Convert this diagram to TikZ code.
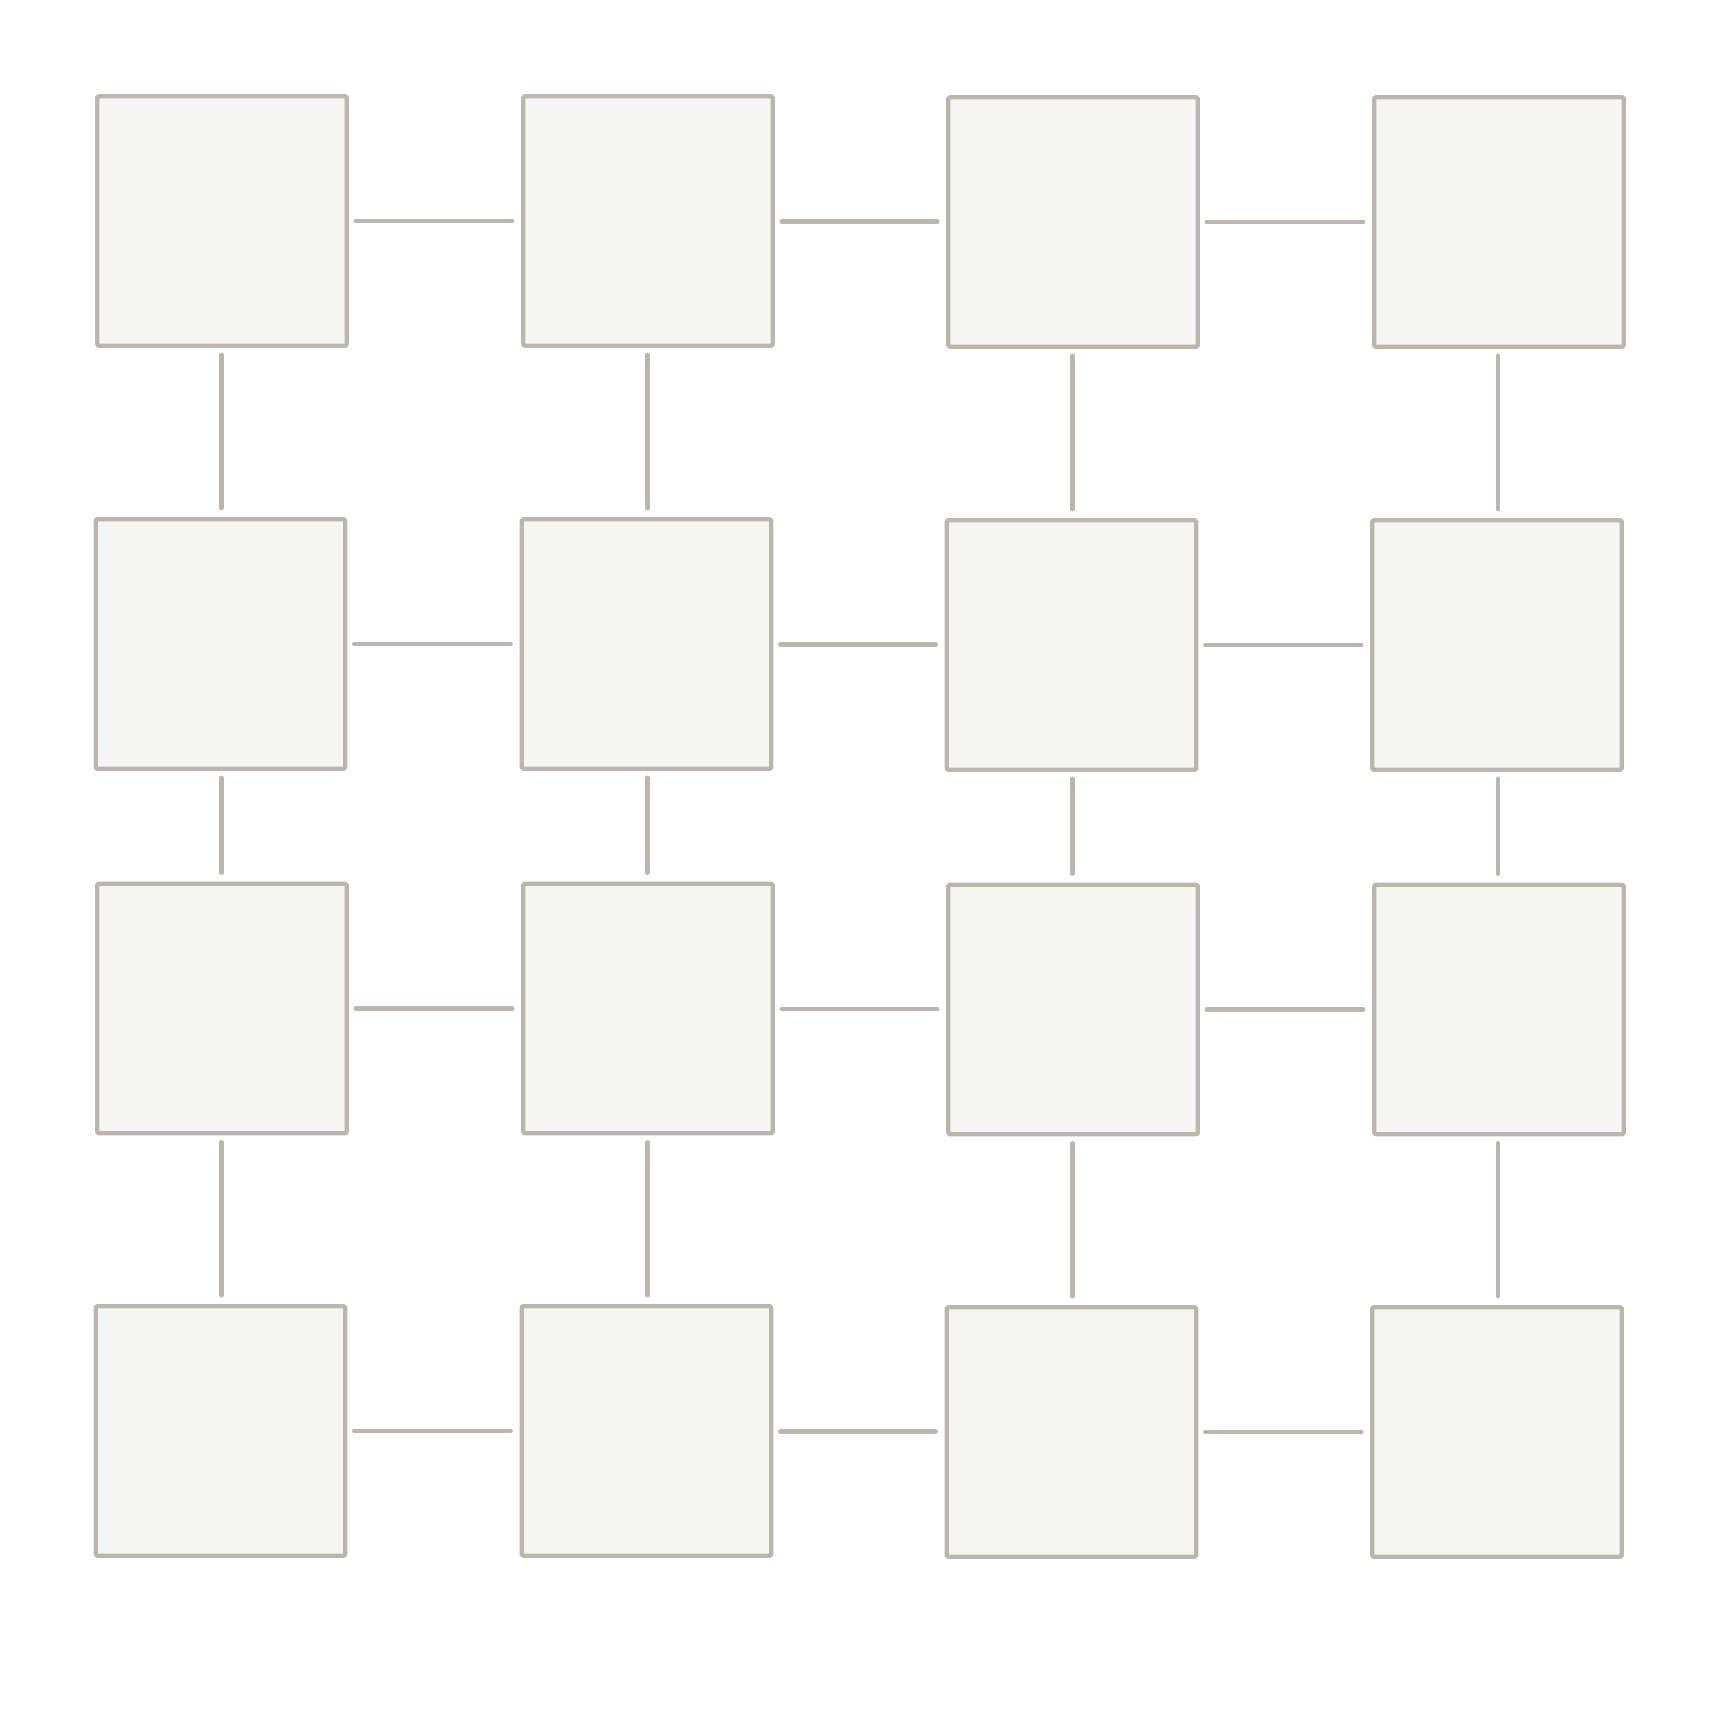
\documentclass[tikz,border=0pt]{standalone}
\usetikzlibrary{calc}
\definecolor{boxline}{RGB}{186,181,173}
\definecolor{boxfill}{RGB}{245,245,243}
\begin{document}
\begin{tikzpicture}[x=1pt,y=-1pt,
  cell/.style={draw=boxline,fill=boxfill,line width=4.4pt,minimum width=249.5pt,minimum height=249.5pt,inner sep=0pt,line join=round,rounded corners=1.5pt},
  link/.style={draw=boxline,line width=4.8pt,line cap=round}]
\useasboundingbox (0,0) rectangle (1715,1715);
\fill[white] (0,0) rectangle (1715,1715);
% row 1
\node[cell] (a11) at (222,221) {};
\node[cell] (a12) at (648,221) {};
\node[cell] (a13) at (1073,222) {};
\node[cell] (a14) at (1499,222) {};
% row 2
\node[cell] (a21) at (220.5,644) {};
\node[cell] (a22) at (646.5,644) {};
\node[cell] (a23) at (1071.5,645) {};
\node[cell] (a24) at (1497,645) {};
% row 3
\node[cell] (a31) at (222,1008.5) {};
\node[cell] (a32) at (648,1008.5) {};
\node[cell] (a33) at (1073,1009.5) {};
\node[cell] (a34) at (1499,1009.5) {};
% row 4
\node[cell] (a41) at (220.5,1431) {};
\node[cell] (a42) at (646.5,1431) {};
\node[cell] (a43) at (1071.5,1432) {};
\node[cell] (a44) at (1497,1432) {};
% horizontal links
\foreach \r in {1,2,3,4}{
  \foreach \c/\n in {1/2,2/3,3/4}{
    \coordinate (m) at ($(a\r\c.east)!0.5!(a\r\n.west)$);
    \draw[link] (a\r\c.east |- m) ++(7,0) -- ($(a\r\n.west |- m)+(-9,0)$);
  }
}
% vertical links
\foreach \c in {1,2,3,4}{
  \foreach \r/\n in {1/2,2/3,3/4}{
    \coordinate (m) at ($(a\r\c.south)!0.5!(a\n\c.north)$);
    \draw[link] (m |- a\r\c.south) ++(0,7) -- ($(m |- a\n\c.north)+(0,-9)$);
  }
}
\end{tikzpicture}
\end{document}
